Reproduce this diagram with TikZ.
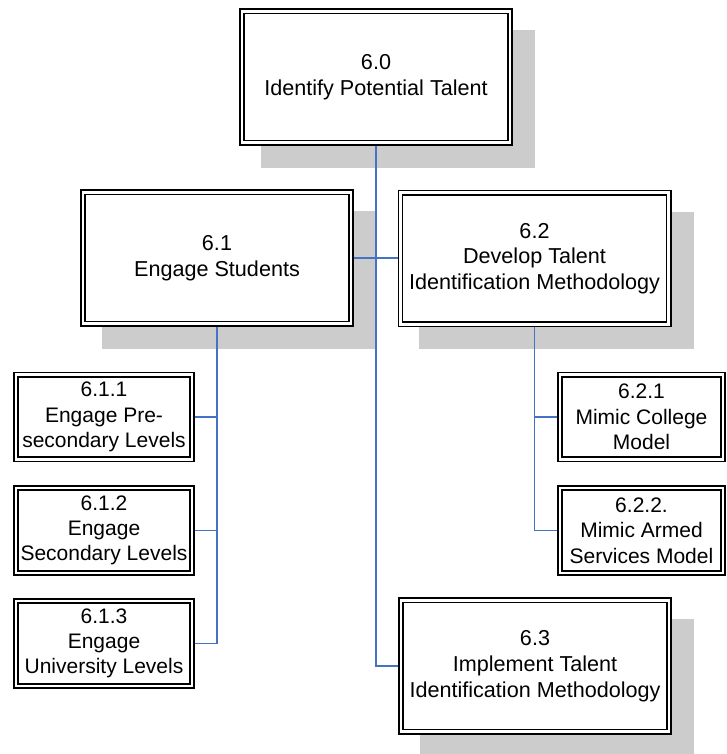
\documentclass[tikz,border=0pt]{standalone}
\usepackage{fontspec}
\setmainfont{Liberation Sans}
\usetikzlibrary{backgrounds,calc}
\definecolor{linkblue}{HTML}{4472C4}
\definecolor{shadowgray}{HTML}{CCCCCC}
\begin{document}
\begin{tikzpicture}[x=1pt,y=-1pt,
  box/.style={draw=black, fill=white, double=white, line width=1.6pt,
    double distance=2.6pt, align=center, inner sep=0pt, outer sep=0pt,
    font=\fontsize{21pt}{25.3pt}\selectfont},
  bigbox/.style={box, minimum width=268.2pt, minimum height=131.5pt,
    font=\fontsize{21.6pt}{25.8pt}\selectfont},
  leftbox/.style={box, minimum width=176.2pt, minimum height=84.7pt},
  rightbox/.style={box, minimum width=163.2pt, minimum height=84.7pt},
  link/.style={draw=linkblue, line width=1.4pt},
  boxshadow/.style={fill=shadowgray}]
\useasboundingbox (0,0) rectangle (727,754);

% work breakdown boxes
\node[bigbox] (n60) at (376,77) {6.0\\Identify Potential Talent};
\node[bigbox] (n61) at (217,258) {6.1\\Engage Students};
\node[bigbox] (n62) at (534.5,258.5) {6.2\\Develop Talent\\Identification Methodology};
\node[bigbox] (n63) at (535,666) {6.3\\Implement Talent\\Identification Methodology};

\node[leftbox] (n611) at (104,417) {6.1.1\\Engage Pre-\\secondary Levels};
\node[leftbox] (n612) at (104,530.5) {6.1.2\\Engage\\Secondary Levels};
\node[leftbox] (n613) at (104,643.5) {6.1.3\\Engage\\University Levels};

\node[rightbox] (n621) at (641.5,417) {6.2.1\\Mimic College\\Model};
\node[rightbox] (n622) at (641.5,530.5) {6.2.2.\\Mimic Armed\\Services Model};

\begin{scope}[on background layer]
  % drop shadows of the main boxes
  \foreach \n in {n60,n61,n62,n63}
    \fill[boxshadow] ($(\n.south west)+(19,25)$) rectangle ($(\n.north east)+(25,19)$);
  % connectors
  \draw[link] (n60.south) |- (n63.west);
  \draw[link] (n61.east) -- (n61.east -| n62.west);
  \draw[link] (n61.south) |- (n611.east);
  \draw[link] (n61.south) |- (n612.east);
  \draw[link] (n61.south) |- (n613.east);
  \draw[link] (n62.south) |- (n621.west);
  \draw[link] (n62.south) |- (n622.west);
\end{scope}
\end{tikzpicture}
\end{document}
